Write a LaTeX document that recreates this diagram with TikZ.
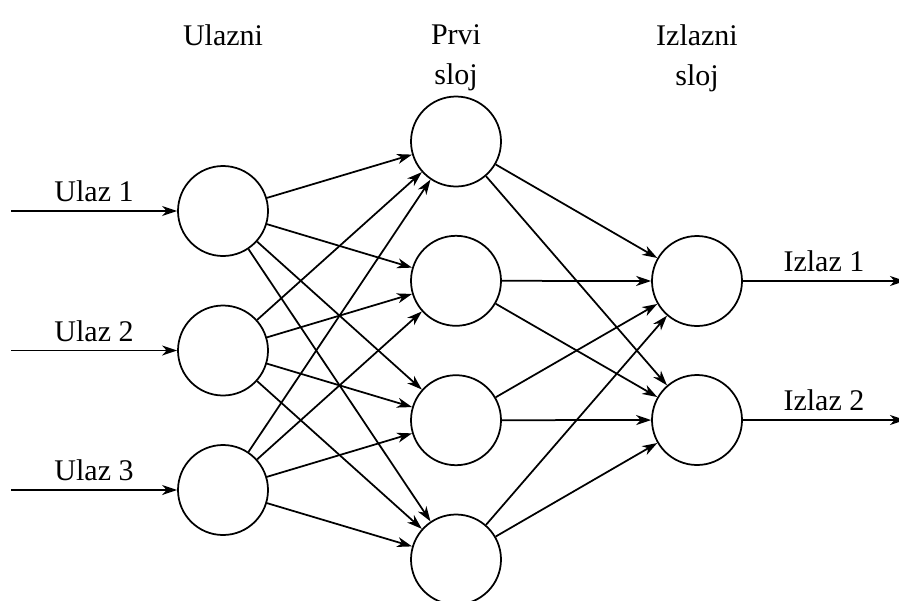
\documentclass[tikz,border=0pt]{standalone}
\usepackage{fontspec}
\setmainfont{Liberation Serif}
\usetikzlibrary{positioning,arrows.meta}

\tikzset{
  neuron/.style={draw, circle, minimum size=36pt, inner sep=0pt},
  conn/.style={-{Stealth[length=6pt,width=4pt,inset=1.8pt]}},
  head/.style={align=center, anchor=north, inner sep=0pt}
}

\begin{document}
\begin{tikzpicture}[x=0.4pt, y=-0.4pt, line width=0.7pt, font=\fontsize{12}{16}\selectfont]
    \useasboundingbox (0,0) rectangle (899,600);

    % Layer titles
    \node[head] (tin) at (223,24) {Ulazni};
    \node[head] (thid) at (456,24) {Prvi\\sloj};
    \node[head] (tout) at (697,24) {Izlazni\\sloj};

    % Input layer
    \node[neuron] (u1) at (223,211) {};
    \node[neuron] (u2) at (223,350.5) {};
    \node[neuron] (u3) at (223,490) {};

    % First layer
    \node[neuron] (p1) at (456,141.5) {};
    \node[neuron] (p2) at (456,280.8) {};
    \node[neuron] (p3) at (456,420.2) {};
    \node[neuron] (p4) at (456,559.5) {};

    % Output layer
    \node[neuron] (o1) at (697,281) {};
    \node[neuron] (o2) at (697,420) {};

    % Inputs
    \coordinate (x1) at (11,211);
    \coordinate (x2) at (11,350.5);
    \coordinate (x3) at (11,490);
    \draw[conn] (x1) -- (u1) node[midway, above] {Ulaz 1};
    \draw[conn] (x2) -- (u2) node[midway, above] {Ulaz 2};
    \draw[conn] (x3) -- (u3) node[midway, above] {Ulaz 3};

    % Outputs
    \coordinate (y1) at (905,281);
    \coordinate (y2) at (905,420);
    \draw[conn] (o1) -- (y1) node[midway, above] {Izlaz 1};
    \draw[conn] (o2) -- (y2) node[midway, above] {Izlaz 2};

    % Weights
    \foreach \i in {1,2,3}
        \foreach \j in {1,2,3,4}
            \draw[conn] (u\i) -- (p\j);
    \foreach \j in {1,2,3,4}
        \foreach \k in {1,2}
            \draw[conn] (p\j) -- (o\k);
\end{tikzpicture}
\end{document}
